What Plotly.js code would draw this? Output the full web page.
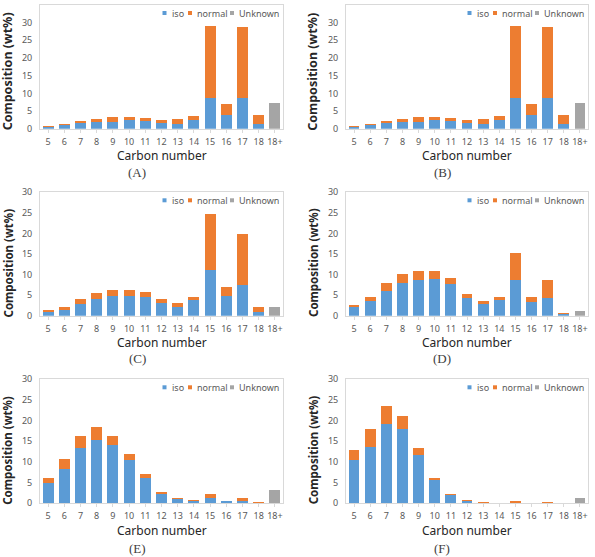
<!DOCTYPE html>
<html>
<head>
<meta charset="utf-8">
<script src="https://cdn.plot.ly/plotly-3.0.1.min.js"></script>
<style>
  html, body { margin: 0; padding: 0; background: #ffffff; }
  #chart { width: 595px; height: 557px; }
</style>
</head>
<body>
<div id="chart"></div>
<script>
// Carbon-number distribution (wt%) of six products, split into iso / normal / unknown
const carbonNumbers = ['5', '6', '7', '8', '9', '10', '11', '12', '13', '14', '15', '16', '17', '18', '18+'];
const seriesNames = ['iso', 'normal', 'Unknown'];
const panelLabels = ['(A)', '(B)', '(C)', '(D)', '(E)', '(F)'];
const xTitle = 'Carbon number';
const yTitle = 'Composition (wt%)';

const isoA     = [0.45, 0.95, 1.6, 1.9, 2.0, 2.35, 2.05, 1.5, 1.4, 2.5, 8.7, 4.0, 8.7, 1.3, null];
const normalA  = [0.3, 0.35, 0.45, 0.8, 1.2, 0.85, 0.85, 0.85, 1.4, 1.05, 20.4, 2.85, 20.0, 2.45, null];
const unknownA = [null, null, null, null, null, null, null, null, null, null, null, null, null, null, 7.3];

const isoB     = [0.45, 0.95, 1.6, 1.9, 2.0, 2.35, 2.05, 1.5, 1.4, 2.5, 8.7, 4.0, 8.7, 1.3, null];
const normalB  = [0.3, 0.35, 0.45, 0.8, 1.2, 0.85, 0.85, 0.85, 1.4, 1.05, 20.4, 2.85, 20.0, 2.45, null];
const unknownB = [null, null, null, null, null, null, null, null, null, null, null, null, null, null, 7.3];

const isoC     = [1.0, 1.5, 2.85, 4.15, 4.85, 4.9, 4.55, 3.2, 2.2, 3.7, 11.0, 4.85, 7.55, 0.85, null];
const normalC  = [0.35, 0.65, 1.15, 1.3, 1.35, 1.3, 1.3, 0.85, 1.0, 0.85, 13.8, 2.15, 12.25, 1.2, null];
const unknownC = [null, null, null, null, null, null, null, null, null, null, null, null, null, null, 2.2];

const isoD     = [2.0, 3.55, 6.1, 8.05, 8.8, 9.0, 7.7, 4.4, 2.9, 3.7, 8.8, 3.45, 4.4, 0.35, null];
const normalD  = [0.7, 1.1, 1.8, 2.05, 2.1, 1.9, 1.5, 0.95, 0.65, 0.8, 6.35, 1.0, 4.4, 0.35, null];
const unknownD = [null, null, null, null, null, null, null, null, null, null, null, null, null, null, 1.2];

const isoE     = [5.0, 8.2, 13.3, 15.2, 14.0, 10.5, 6.2, 2.3, 1.0, 0.65, 1.4, 0.45, 0.5, 0.05, null];
const normalE  = [1.2, 2.5, 3.1, 3.2, 2.4, 1.5, 0.8, 0.4, 0.2, 0.1, 0.8, 0.15, 0.7, 0.2, null];
const unknownE = [null, null, null, null, null, null, null, null, null, null, null, null, null, null, 3.3];

const isoF     = [10.5, 13.7, 19.2, 17.9, 11.8, 5.65, 2.0, 0.5, 0.05, 0, 0.1, 0, 0.05, 0, null];
const normalF  = [2.3, 4.2, 4.3, 3.2, 1.6, 0.45, 0.2, 0.2, 0.25, 0, 0.4, 0, 0.25, 0, null];
const unknownF = [null, null, null, null, null, null, null, null, null, null, null, null, null, null, 1.4];

const yMax = [35, 35, 30, 30, 30, 30];

const panelSeries = [
  [isoA, normalA, unknownA],
  [isoB, normalB, unknownB],
  [isoC, normalC, unknownC],
  [isoD, normalD, unknownD],
  [isoE, normalE, unknownE],
  [isoF, normalF, unknownF]
];

const colors = ['#5B9BD5', '#ED7D31', '#A5A5A5'];

// Page geometry (pixels)
const W = 595, H = 557;
const cols = [[40, 283], [346, 588]];
const rows = [[5, 128.7], [192.3, 315.7], [379.3, 503.3]];
const xTitleY = [155, 342, 530.5];
const panelLabelY = [172.5, 358.5, 548];
const yTitleX = [7.5, 313];
const yTitleYShift = [5, 9, 9];
const px = v => v / W;
const py = v => 1 - v / H;

const FONT = '"Noto Sans", "Open Sans", "DejaVu Sans", sans-serif';
const SERIF = '"Liberation Serif", "DejaVu Serif", serif';

const traces = [];
const layout = {
  width: W,
  height: H,
  margin: { l: 0, r: 0, t: 0, b: 0 },
  paper_bgcolor: '#ffffff',
  plot_bgcolor: '#ffffff',
  barmode: 'stack',
  bargap: 0.33,
  showlegend: false,
  font: { family: FONT, color: '#595959' },
  shapes: [],
  annotations: []
};

for (let i = 0; i < 6; i++) {
  const n = i + 1;
  const xa = n === 1 ? 'x' : 'x' + n;
  const ya = n === 1 ? 'y' : 'y' + n;
  const col = i % 2;
  const row = Math.floor(i / 2);
  const [x0, x1] = cols[col];
  const [top, bottom] = rows[row];

  panelSeries[i].forEach((vals, k) => {
    traces.push({
      type: 'bar',
      name: seriesNames[k],
      x: carbonNumbers,
      y: vals,
      xaxis: xa,
      yaxis: ya,
      marker: { color: colors[k], line: { width: 0 } },
      hoverinfo: 'x+y+name'
    });
  });

  layout['xaxis' + (n === 1 ? '' : n)] = {
    domain: [px(x0), px(x1)],
    anchor: ya,
    type: 'category',
    showline: true,
    mirror: true,
    linecolor: '#D9D9D9',
    linewidth: 1,
    ticks: 'outside',
    ticklen: 3,
    tickcolor: '#D9D9D9',
    tickfont: { size: 9, color: '#595959', family: FONT },
    ticklabelstandoff: 1,
    showgrid: false,
    zeroline: false,
    fixedrange: true
  };

  layout['yaxis' + (n === 1 ? '' : n)] = {
    domain: [py(bottom), py(top)],
    anchor: xa,
    range: [0, yMax[i]],
    dtick: 5,
    showline: true,
    mirror: true,
    linecolor: '#D9D9D9',
    linewidth: 1,
    ticks: '',
    showgrid: false,
    zeroline: false,
    fixedrange: true,
    tickfont: { size: 9, color: '#595959', family: FONT },
    ticklabelstandoff: 5
  };

  // Axis titles
  layout.annotations.push({
    xref: 'paper', yref: 'paper',
    x: px((x0 + x1) / 2), y: py(xTitleY[row]),
    xanchor: 'center', yanchor: 'middle',
    text: xTitle, showarrow: false,
    font: { size: 12, color: '#262626', family: FONT }
  });
  layout.annotations.push({
    xref: 'paper', yref: 'paper',
    x: px(yTitleX[col]), y: py((top + bottom) / 2 + yTitleYShift[row]),
    xanchor: 'center', yanchor: 'middle',
    text: yTitle, showarrow: false, textangle: -90,
    font: { size: row === 0 ? 12.5 : 11.5, color: '#262626', family: FONT, weight: 'bold' }
  });

  // In-plot legend row, top-right of each panel
  const legStart = x1 - 8 - 112.5;
  const legY = top + 8;
  const sq = 4;
  const squareOffsets = [0, 25.5, 67.5];
  const textOffsets = [7.5, 32.5, 74.5];
  seriesNames.forEach((name, k) => {
    const sx = legStart + squareOffsets[k];
    layout.shapes.push({
      type: 'rect', xref: 'paper', yref: 'paper',
      x0: px(sx), x1: px(sx + sq),
      y0: py(legY + sq / 2), y1: py(legY - sq / 2),
      fillcolor: colors[k], line: { width: 0 }
    });
    layout.annotations.push({
      xref: 'paper', yref: 'paper',
      x: px(legStart + textOffsets[k]), y: py(legY),
      xanchor: 'left', yanchor: 'middle',
      text: name, showarrow: false,
      font: { size: 9, color: '#595959', family: FONT }
    });
  });

  // Panel letter beneath the chart
  layout.annotations.push({
    xref: 'paper', yref: 'paper',
    x: px(col === 0 ? 137 : 442), y: py(panelLabelY[row]),
    xanchor: 'center', yanchor: 'middle',
    text: panelLabels[i], showarrow: false,
    font: { size: 13, color: '#404040', family: SERIF }
  });
}

Plotly.newPlot('chart', traces, layout, { displayModeBar: false, staticPlot: true });
</script>
</body>
</html>
